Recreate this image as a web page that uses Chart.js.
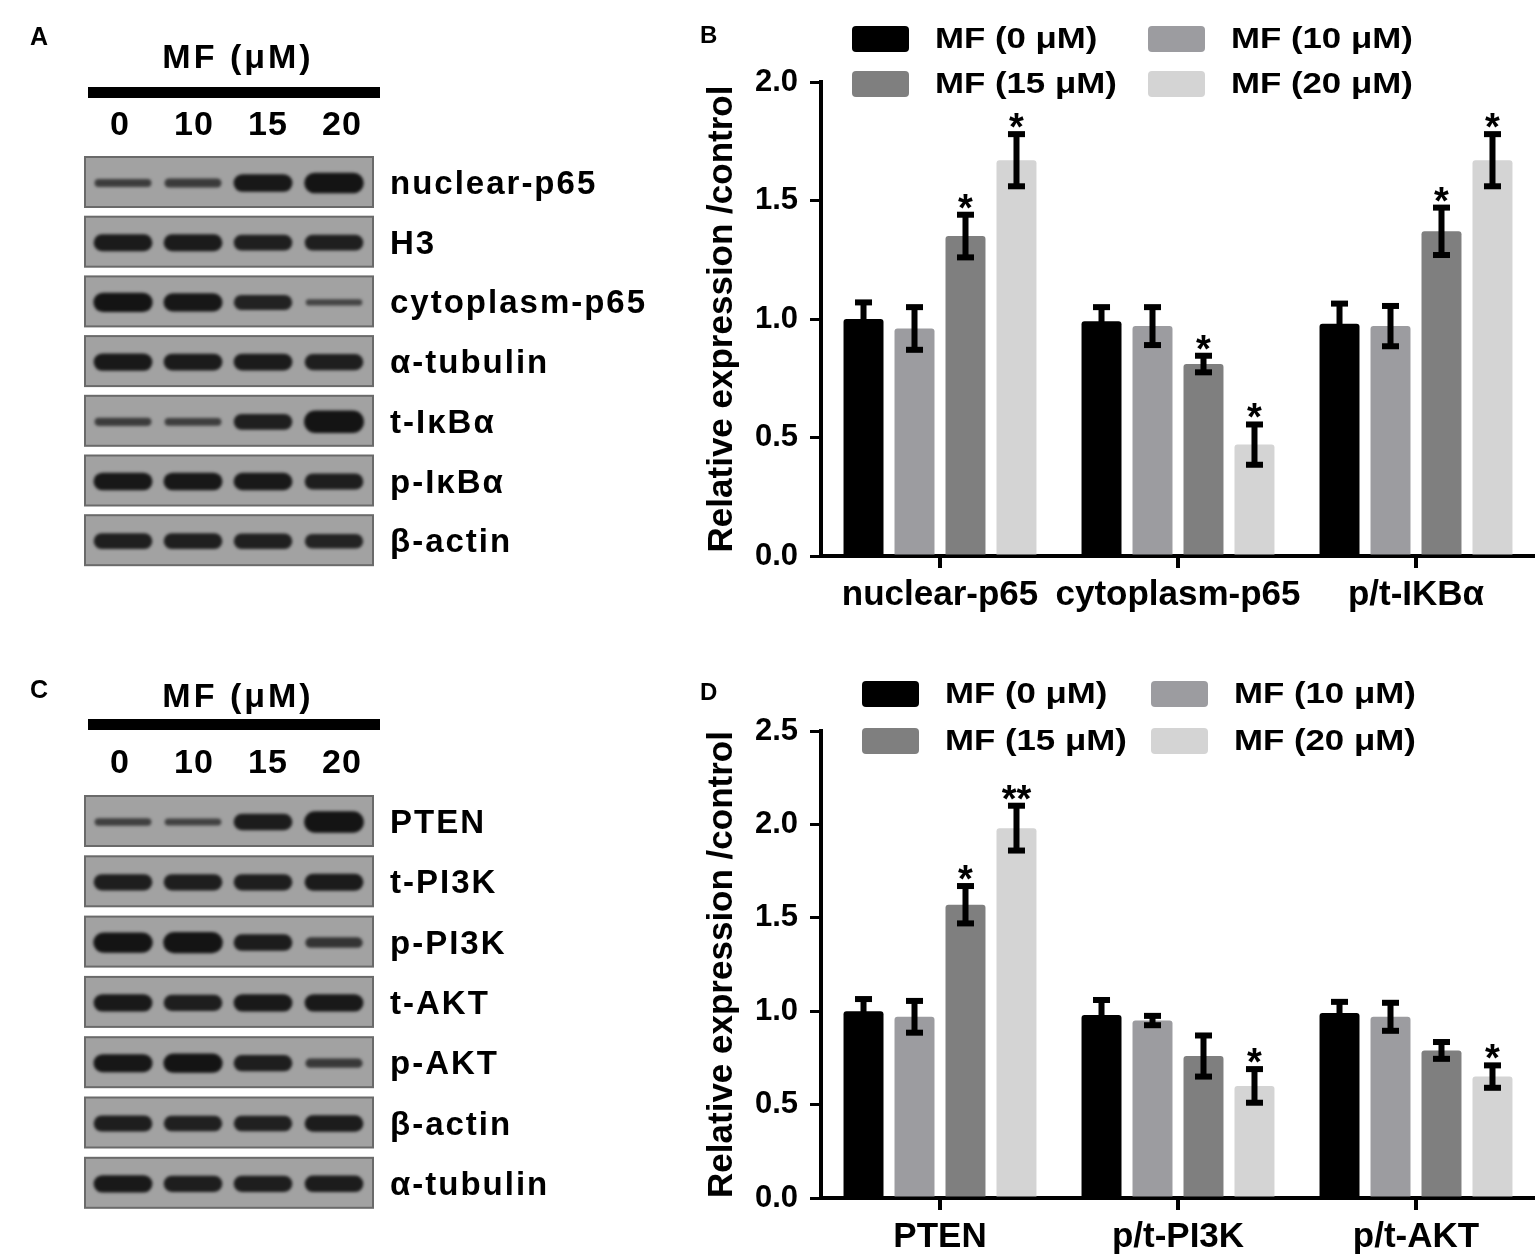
<!DOCTYPE html>
<html>
<head>
<meta charset="utf-8">
<script src="https://cdn.jsdelivr.net/npm/chart.js@4.4.1/dist/chart.umd.min.js"></script>
<style>
  html, body { margin: 0; padding: 0; background: #fff; }
  #page { position: relative; width: 1535px; height: 1257px; overflow: hidden; }
  canvas { position: absolute; }
</style>
</head>
<body>
<div id="page">
  <canvas id="blots" width="690" height="1257" style="left:0;top:0"></canvas>
  <canvas id="chartB" width="845" height="640" style="left:690px;top:0"></canvas>
  <canvas id="chartD" width="845" height="617" style="left:690px;top:640px"></canvas>
</div>
<script>
// ---- data ----
var seriesNames = ['MF (0 μM)', 'MF (10 μM)', 'MF (15 μM)', 'MF (20 μM)'];
var seriesColors = ['#000000', '#9c9ca0', '#7f7f7f', '#d4d4d4'];

var groupsB = ['nuclear-p65', 'cytoplasm-p65', 'p/t-IKBα'];
var mf0B = [1.00, 0.99, 0.98];
var mf10B = [0.96, 0.97, 0.97];
var mf15B = [1.35, 0.81, 1.37];
var mf20B = [1.67, 0.47, 1.67];
var err0B = [0.07, 0.06, 0.085];
var err10B = [0.09, 0.08, 0.085];
var err15B = [0.09, 0.035, 0.10];
var err20B = [0.11, 0.085, 0.11];
var starsB = [['', '', ''], ['', '', ''], ['*', '*', '*'], ['*', '*', '*']];

var groupsD = ['PTEN', 'p/t-PI3K', 'p/t-AKT'];
var mf0D = [1.00, 0.98, 0.99];
var mf10D = [0.97, 0.95, 0.97];
var mf15D = [1.57, 0.76, 0.79];
var mf20D = [1.98, 0.60, 0.65];
var err0D = [0.065, 0.08, 0.06];
var err10D = [0.085, 0.025, 0.075];
var err15D = [0.10, 0.11, 0.045];
var err20D = [0.12, 0.09, 0.06];
var starsD = [['', '', ''], ['', '', ''], ['*', '', ''], ['**', '*', '*']];

var yTicksB = [0, 0.5, 1.0, 1.5, 2.0];
var yTicksD = [0, 0.5, 1.0, 1.5, 2.0, 2.5];

// western blots: band strength 0..1 per lane
var blotLanes = ['0', '10', '15', '20'];
var blotRowsA = ['nuclear-p65', 'H3', 'cytoplasm-p65', 'α-tubulin', 't-IκBα', 'p-IκBα', 'β-actin'];
var blotBandsA = [
    [0.22, 0.26, 0.72, 0.88],
    [0.68, 0.68, 0.62, 0.62],
    [0.80, 0.74, 0.58, 0.12],
    [0.70, 0.68, 0.68, 0.64],
    [0.22, 0.20, 0.62, 0.98],
    [0.72, 0.72, 0.70, 0.64],
    [0.62, 0.62, 0.60, 0.56]
];
var blotRowsC = ['PTEN', 't-PI3K', 'p-PI3K', 't-AKT', 'p-AKT', 'β-actin', 'α-tubulin'];
var blotBandsC = [
    [0.18, 0.16, 0.66, 0.92],
    [0.64, 0.64, 0.64, 0.68],
    [0.86, 0.90, 0.66, 0.34],
    [0.70, 0.64, 0.70, 0.70],
    [0.74, 0.80, 0.64, 0.28],
    [0.64, 0.60, 0.60, 0.66],
    [0.70, 0.64, 0.64, 0.66]
];

var FONT = '"Liberation Sans", Arial, Helvetica, sans-serif';

// ---- blots (panels A and C) ----
function drawBlotPanel(ctx, letter, letterY, headY, barY, laneY, stripTop, stride, rows, bands) {
    ctx.fillStyle = '#000';
    ctx.textBaseline = 'alphabetic';
    ctx.textAlign = 'left';
    ctx.font = 'bold 25px ' + FONT;
    ctx.fillText(letter, 30, letterY);

    ctx.textAlign = 'center';
    ctx.textBaseline = 'middle';
    ctx.font = 'bold 34px ' + FONT;
    ctx.letterSpacing = '3px';
    ctx.fillText('MF (μM)', 238, headY);
    ctx.fillRect(88, barY - 5, 292, 11);
    ctx.letterSpacing = '1px';
    var laneX = [120, 194, 268, 342];
    blotLanes.forEach(function (l, i) { ctx.fillText(l, laneX[i], laneY); });

    var bandX = [123, 193, 263, 334];
    rows.forEach(function (name, r) {
        var top = stripTop + r * stride;
        ctx.fillStyle = '#a2a2a2';
        ctx.fillRect(85, top, 288, 50);
        ctx.strokeStyle = '#6a6a6a';
        ctx.lineWidth = 2;
        ctx.strokeRect(85, top, 288, 50);
        ctx.save();
        ctx.filter = 'blur(1.8px)';
        bands[r].forEach(function (t, i) {
            var w = 56 + 4 * t, h = 4 + 19 * t;
            ctx.globalAlpha = 0.6 + 0.4 * Math.min(1, t * 1.3);
            ctx.fillStyle = '#141414';
            ctx.beginPath();
            ctx.roundRect(bandX[i] - w / 2, top + 26 - h / 2, w, h, h / 2);
            ctx.fill();
        });
        ctx.restore();
        ctx.fillStyle = '#000';
        ctx.textAlign = 'left';
        ctx.textBaseline = 'middle';
        ctx.font = 'bold 33px ' + FONT;
        ctx.letterSpacing = '2px';
        ctx.fillText(name, 390, top + 28);
    });
    ctx.letterSpacing = '0px';
}

var bctx = document.getElementById('blots').getContext('2d');
drawBlotPanel(bctx, 'A', 45, 59, 92, 126, 157, 59.7, blotRowsA, blotBandsA);
drawBlotPanel(bctx, 'C', 698, 698, 724, 764, 796, 60.3, blotRowsC, blotBandsC);

// ---- bar charts (panels B and D) ----
var errorBars = {
    id: 'errorBars',
    afterDatasetsDraw: function (chart, args, opts) {
        var ctx = chart.ctx;
        var y = chart.scales.y;
        ctx.save();
        chart.data.datasets.forEach(function (ds, di) {
            var meta = chart.getDatasetMeta(di);
            meta.data.forEach(function (bar, i) {
                var v = ds.data[i], e = opts.errors[di][i];
                var yt = y.getPixelForValue(v + e), yb = y.getPixelForValue(v - e);
                ctx.fillStyle = '#000';
                ctx.fillRect(bar.x - 3, yt, 6, yb - yt);
                ctx.fillRect(bar.x - 8.5, yt - 3, 17, 6);
                ctx.fillRect(bar.x - 8.5, yb - 3, 17, 6);
                var s = opts.stars[di][i];
                if (s) {
                    ctx.font = 'bold 38px ' + FONT;
                    ctx.textAlign = 'center';
                    ctx.textBaseline = 'alphabetic';
                    ctx.fillText(s, bar.x, yt + 6);
                }
            });
        });
        ctx.restore();
    }
};

var boxLegend = {
    id: 'boxLegend',
    afterDraw: function (chart, args, opts) {
        var ctx = chart.ctx;
        ctx.save();
        chart.data.datasets.forEach(function (ds, i) {
            var col = i % 2, row = Math.floor(i / 2);
            var bx = opts.x[col], cy = opts.y[row];
            ctx.fillStyle = ds.backgroundColor;
            ctx.beginPath();
            ctx.roundRect(bx, cy - 13, 57, 26, 4);
            ctx.fill();
            // legend text in the reference is horizontally wide
            ctx.save();
            ctx.translate(bx + 83, cy + 1);
            ctx.scale(1.2, 1);
            ctx.fillStyle = '#000';
            ctx.font = 'bold 29px ' + FONT;
            ctx.textAlign = 'left';
            ctx.textBaseline = 'middle';
            ctx.fillText(ds.label, 0, 0);
            ctx.restore();
        });
        ctx.restore();
    }
};

var panelLetter = {
    id: 'panelLetter',
    afterDraw: function (chart, args, opts) {
        var ctx = chart.ctx;
        ctx.save();
        ctx.fillStyle = '#000';
        ctx.font = 'bold 24px ' + FONT;
        ctx.textBaseline = 'alphabetic';
        ctx.fillText(opts.text, 10, opts.y);
        ctx.restore();
    }
};

function makeChart(id, groups, values, errors, stars, yTicks, padTop, xHeight, legendY, legendX, letterY, letter) {
    return new Chart(document.getElementById(id), {
        type: 'bar',
        data: {
            labels: groups,
            datasets: values.map(function (v, i) {
                return {
                    label: seriesNames[i],
                    data: v,
                    backgroundColor: seriesColors[i],
                    borderRadius: 3,
                    borderSkipped: 'bottom',
                    barPercentage: 0.784,
                    categoryPercentage: 0.857
                };
            })
        },
        options: {
            responsive: false,
            animation: false,
            devicePixelRatio: 1,
            layout: { padding: { top: padTop, left: 0, right: 0, bottom: 0 } },
            plugins: {
                legend: { display: false },
                tooltip: { enabled: false },
                errorBars: { errors: errors, stars: stars },
                boxLegend: { x: legendX, y: legendY },
                panelLetter: { text: letter, y: letterY }
            },
            scales: {
                x: {
                    border: { display: true, color: '#000', width: 4 },
                    grid: { offset: false, drawOnChartArea: false, drawTicks: true, tickLength: 12, lineWidth: 4, color: '#000' },
                    ticks: { color: '#000', font: { family: FONT, size: 35, weight: 'bold' }, padding: 6, maxRotation: 0, autoSkip: false },
                    afterFit: function (s) { s.height = xHeight; }
                },
                y: {
                    min: yTicks[0],
                    max: yTicks[yTicks.length - 1],
                    afterBuildTicks: function (s) { s.ticks = yTicks.map(function (v) { return { value: v }; }); },
                    border: { display: true, color: '#000', width: 4 },
                    grid: { drawOnChartArea: false, drawTicks: true, tickLength: 11, lineWidth: 3, color: '#000' },
                    ticks: {
                        color: '#000',
                        font: { family: FONT, size: 31, weight: 'bold' },
                        padding: 12,
                        callback: function (v) { return Number(v).toFixed(1); }
                    },
                    title: {
                        display: true,
                        text: 'Relative expression /control',
                        color: '#000',
                        font: { family: FONT, size: 35, weight: 'bold' },
                        padding: { top: 11, bottom: 0 }
                    },
                    afterFit: function (s) { s.width = 131; }
                }
            }
        },
        plugins: [errorBars, boxLegend, panelLetter]
    });
}

makeChart('chartB', groupsB, [mf0B, mf10B, mf15B, mf20B], [err0B, err10B, err15B, err20B], starsB,
    yTicksB, 82, 84, [39, 84], [162, 458], 43, 'B');
makeChart('chartD', groupsD, [mf0D, mf10D, mf15D, mf20D], [err0D, err10D, err15D, err20D], starsD,
    yTicksD, 91, 59, [54, 101], [172, 461], 60, 'D');
</script>
</body>
</html>
